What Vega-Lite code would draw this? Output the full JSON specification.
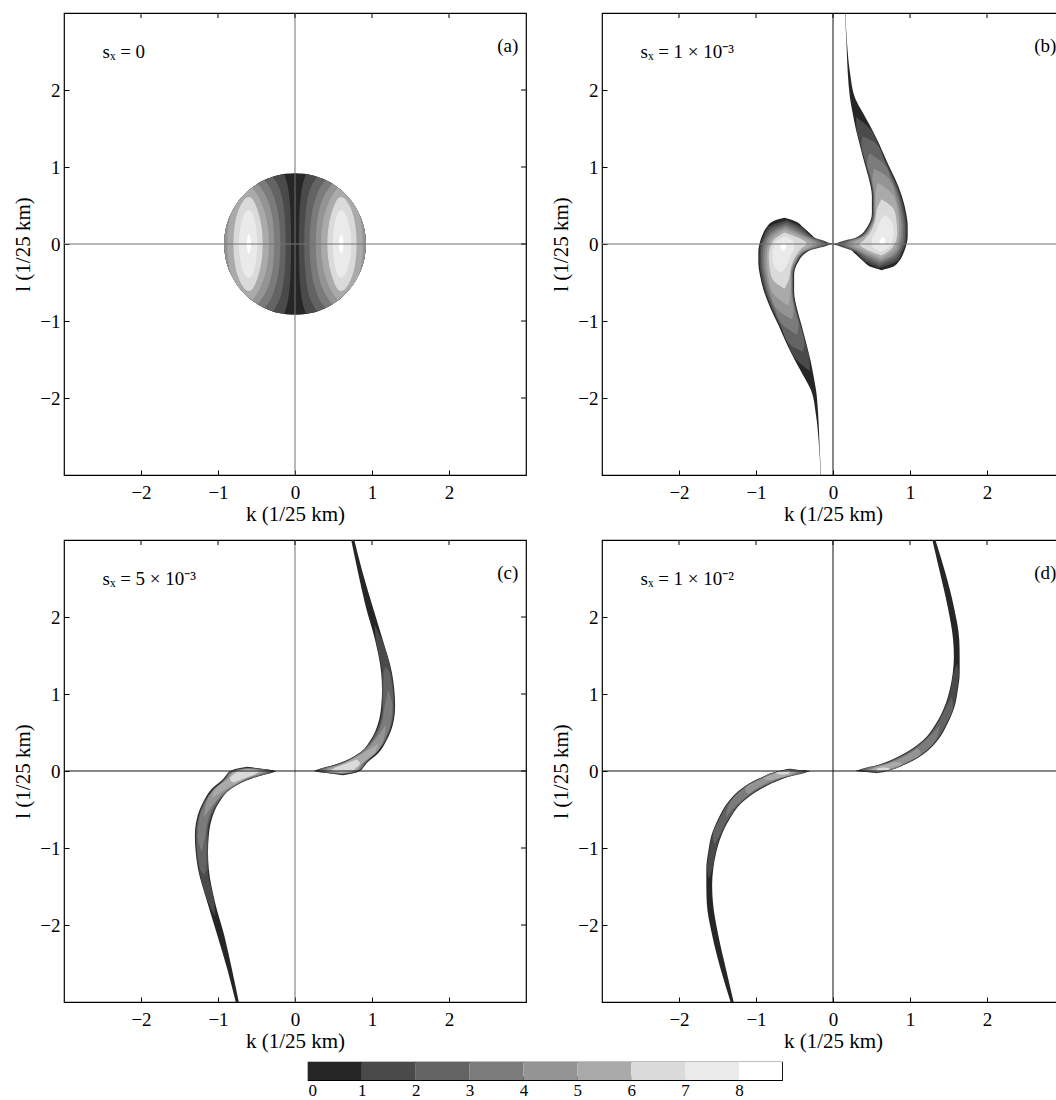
{
"$schema":"https://vega.github.io/schema/vega-lite/v6.json",
"padding":{"left":12,"top":11,"right":0,"bottom":0},
"datasets":{
"pa":[
{"v":0,"s":1,"l":-0.92,"a":0,"b":0},{"v":0,"s":1,"l":-0.915,"a":-0.096,"b":0.096},{"v":0,"s":1,"l":-0.9,"a":-0.191,"b":0.191},{"v":0,"s":1,"l":-0.85,"a":-0.352,"b":0.352},{"v":0,"s":1,"l":-0.75,"a":-0.533,"b":0.533},{"v":0,"s":1,"l":-0.6,"a":-0.697,"b":0.697},{"v":0,"s":1,"l":-0.4,"a":-0.829,"b":0.829},{"v":0,"s":1,"l":-0.2,"a":-0.898,"b":0.898},{"v":0,"s":1,"l":0,"a":-0.92,"b":0.92},{"v":0,"s":1,"l":0.2,"a":-0.898,"b":0.898},{"v":0,"s":1,"l":0.4,"a":-0.829,"b":0.829},{"v":0,"s":1,"l":0.6,"a":-0.697,"b":0.697},{"v":0,"s":1,"l":0.75,"a":-0.533,"b":0.533},{"v":0,"s":1,"l":0.85,"a":-0.352,"b":0.352},{"v":0,"s":1,"l":0.9,"a":-0.191,"b":0.191},{"v":0,"s":1,"l":0.915,"a":-0.096,"b":0.096},{"v":0,"s":1,"l":0.92,"a":0,"b":0},
{"v":1,"s":0,"l":-0.9085,"a":-0.146,"b":-0.146},{"v":1,"s":0,"l":-0.9,"a":-0.191,"b":-0.14},{"v":1,"s":0,"l":-0.85,"a":-0.352,"b":-0.121},{"v":1,"s":0,"l":-0.75,"a":-0.533,"b":-0.095},{"v":1,"s":0,"l":-0.6,"a":-0.697,"b":-0.073},{"v":1,"s":0,"l":-0.4,"a":-0.829,"b":-0.059},{"v":1,"s":0,"l":-0.2,"a":-0.898,"b":-0.052},{"v":1,"s":0,"l":0,"a":-0.92,"b":-0.05},{"v":1,"s":0,"l":0.2,"a":-0.898,"b":-0.052},{"v":1,"s":0,"l":0.4,"a":-0.829,"b":-0.059},{"v":1,"s":0,"l":0.6,"a":-0.697,"b":-0.073},{"v":1,"s":0,"l":0.75,"a":-0.533,"b":-0.095},{"v":1,"s":0,"l":0.85,"a":-0.352,"b":-0.121},{"v":1,"s":0,"l":0.9,"a":-0.191,"b":-0.14},{"v":1,"s":0,"l":0.9085,"a":-0.146,"b":-0.146},
{"v":1,"s":1,"l":-0.9085,"a":0.146,"b":0.146},{"v":1,"s":1,"l":-0.9,"a":0.14,"b":0.191},{"v":1,"s":1,"l":-0.85,"a":0.121,"b":0.352},{"v":1,"s":1,"l":-0.75,"a":0.095,"b":0.533},{"v":1,"s":1,"l":-0.6,"a":0.073,"b":0.697},{"v":1,"s":1,"l":-0.4,"a":0.059,"b":0.829},{"v":1,"s":1,"l":-0.2,"a":0.052,"b":0.898},{"v":1,"s":1,"l":0,"a":0.05,"b":0.92},{"v":1,"s":1,"l":0.2,"a":0.052,"b":0.898},{"v":1,"s":1,"l":0.4,"a":0.059,"b":0.829},{"v":1,"s":1,"l":0.6,"a":0.073,"b":0.697},{"v":1,"s":1,"l":0.75,"a":0.095,"b":0.533},{"v":1,"s":1,"l":0.85,"a":0.121,"b":0.352},{"v":1,"s":1,"l":0.9,"a":0.14,"b":0.191},{"v":1,"s":1,"l":0.9085,"a":0.146,"b":0.146},
{"v":2,"s":0,"l":-0.873,"a":-0.287,"b":-0.287},{"v":2,"s":0,"l":-0.85,"a":-0.352,"b":-0.271},{"v":2,"s":0,"l":-0.75,"a":-0.533,"b":-0.213},{"v":2,"s":0,"l":-0.6,"a":-0.697,"b":-0.167},{"v":2,"s":0,"l":-0.4,"a":-0.829,"b":-0.138},{"v":2,"s":0,"l":-0.2,"a":-0.898,"b":-0.124},{"v":2,"s":0,"l":0,"a":-0.92,"b":-0.12},{"v":2,"s":0,"l":0.2,"a":-0.898,"b":-0.124},{"v":2,"s":0,"l":0.4,"a":-0.829,"b":-0.138},{"v":2,"s":0,"l":0.6,"a":-0.697,"b":-0.167},{"v":2,"s":0,"l":0.75,"a":-0.533,"b":-0.213},{"v":2,"s":0,"l":0.85,"a":-0.352,"b":-0.271},{"v":2,"s":0,"l":0.873,"a":-0.287,"b":-0.287},
{"v":2,"s":1,"l":-0.873,"a":0.287,"b":0.287},{"v":2,"s":1,"l":-0.85,"a":0.271,"b":0.352},{"v":2,"s":1,"l":-0.75,"a":0.213,"b":0.533},{"v":2,"s":1,"l":-0.6,"a":0.167,"b":0.697},{"v":2,"s":1,"l":-0.4,"a":0.138,"b":0.829},{"v":2,"s":1,"l":-0.2,"a":0.124,"b":0.898},{"v":2,"s":1,"l":0,"a":0.12,"b":0.92},{"v":2,"s":1,"l":0.2,"a":0.124,"b":0.898},{"v":2,"s":1,"l":0.4,"a":0.138,"b":0.829},{"v":2,"s":1,"l":0.6,"a":0.167,"b":0.697},{"v":2,"s":1,"l":0.75,"a":0.213,"b":0.533},{"v":2,"s":1,"l":0.85,"a":0.271,"b":0.352},{"v":2,"s":1,"l":0.873,"a":0.287,"b":0.287},
{"v":3,"s":0,"l":-0.831,"a":-0.399,"b":-0.399},{"v":3,"s":0,"l":-0.8,"a":-0.454,"b":-0.372},{"v":3,"s":0,"l":-0.75,"a":-0.533,"b":-0.335},{"v":3,"s":0,"l":-0.6,"a":-0.697,"b":-0.27},{"v":3,"s":0,"l":-0.4,"a":-0.829,"b":-0.22},{"v":3,"s":0,"l":-0.2,"a":-0.898,"b":-0.197},{"v":3,"s":0,"l":0,"a":-0.92,"b":-0.19},{"v":3,"s":0,"l":0.2,"a":-0.898,"b":-0.197},{"v":3,"s":0,"l":0.4,"a":-0.829,"b":-0.22},{"v":3,"s":0,"l":0.6,"a":-0.697,"b":-0.27},{"v":3,"s":0,"l":0.75,"a":-0.533,"b":-0.335},{"v":3,"s":0,"l":0.8,"a":-0.454,"b":-0.372},{"v":3,"s":0,"l":0.831,"a":-0.399,"b":-0.399},
{"v":3,"s":1,"l":-0.831,"a":0.399,"b":0.399},{"v":3,"s":1,"l":-0.8,"a":0.372,"b":0.454},{"v":3,"s":1,"l":-0.75,"a":0.335,"b":0.533},{"v":3,"s":1,"l":-0.6,"a":0.27,"b":0.697},{"v":3,"s":1,"l":-0.4,"a":0.22,"b":0.829},{"v":3,"s":1,"l":-0.2,"a":0.197,"b":0.898},{"v":3,"s":1,"l":0,"a":0.19,"b":0.92},{"v":3,"s":1,"l":0.2,"a":0.197,"b":0.898},{"v":3,"s":1,"l":0.4,"a":0.22,"b":0.829},{"v":3,"s":1,"l":0.6,"a":0.27,"b":0.697},{"v":3,"s":1,"l":0.75,"a":0.335,"b":0.533},{"v":3,"s":1,"l":0.8,"a":0.372,"b":0.454},{"v":3,"s":1,"l":0.831,"a":0.399,"b":0.399},
{"v":4,"s":0,"l":-0.781,"a":-0.486,"b":-0.486},{"v":4,"s":0,"l":-0.7,"a":-0.597,"b":-0.425},{"v":4,"s":0,"l":-0.6,"a":-0.697,"b":-0.367},{"v":4,"s":0,"l":-0.4,"a":-0.829,"b":-0.305},{"v":4,"s":0,"l":-0.2,"a":-0.898,"b":-0.278},{"v":4,"s":0,"l":0,"a":-0.92,"b":-0.27},{"v":4,"s":0,"l":0.2,"a":-0.898,"b":-0.278},{"v":4,"s":0,"l":0.4,"a":-0.829,"b":-0.305},{"v":4,"s":0,"l":0.6,"a":-0.697,"b":-0.367},{"v":4,"s":0,"l":0.7,"a":-0.597,"b":-0.425},{"v":4,"s":0,"l":0.781,"a":-0.486,"b":-0.486},
{"v":4,"s":1,"l":-0.781,"a":0.486,"b":0.486},{"v":4,"s":1,"l":-0.7,"a":0.425,"b":0.597},{"v":4,"s":1,"l":-0.6,"a":0.367,"b":0.697},{"v":4,"s":1,"l":-0.4,"a":0.305,"b":0.829},{"v":4,"s":1,"l":-0.2,"a":0.278,"b":0.898},{"v":4,"s":1,"l":0,"a":0.27,"b":0.92},{"v":4,"s":1,"l":0.2,"a":0.278,"b":0.898},{"v":4,"s":1,"l":0.4,"a":0.305,"b":0.829},{"v":4,"s":1,"l":0.6,"a":0.367,"b":0.697},{"v":4,"s":1,"l":0.7,"a":0.425,"b":0.597},{"v":4,"s":1,"l":0.781,"a":0.486,"b":0.486},
{"v":5,"s":0,"l":-0.731,"a":-0.556,"b":-0.556},{"v":5,"s":0,"l":-0.65,"a":-0.651,"b":-0.495},{"v":5,"s":0,"l":-0.55,"a":-0.738,"b":-0.443},{"v":5,"s":0,"l":-0.4,"a":-0.829,"b":-0.39},{"v":5,"s":0,"l":-0.2,"a":-0.869,"b":-0.351},{"v":5,"s":0,"l":0,"a":-0.88,"b":-0.34},{"v":5,"s":0,"l":0.2,"a":-0.869,"b":-0.351},{"v":5,"s":0,"l":0.4,"a":-0.829,"b":-0.39},{"v":5,"s":0,"l":0.55,"a":-0.738,"b":-0.443},{"v":5,"s":0,"l":0.65,"a":-0.651,"b":-0.495},{"v":5,"s":0,"l":0.731,"a":-0.556,"b":-0.556},
{"v":5,"s":1,"l":-0.731,"a":0.556,"b":0.556},{"v":5,"s":1,"l":-0.65,"a":0.495,"b":0.651},{"v":5,"s":1,"l":-0.55,"a":0.443,"b":0.738},{"v":5,"s":1,"l":-0.4,"a":0.39,"b":0.829},{"v":5,"s":1,"l":-0.2,"a":0.351,"b":0.869},{"v":5,"s":1,"l":0,"a":0.34,"b":0.88},{"v":5,"s":1,"l":0.2,"a":0.351,"b":0.869},{"v":5,"s":1,"l":0.4,"a":0.39,"b":0.829},{"v":5,"s":1,"l":0.55,"a":0.443,"b":0.738},{"v":5,"s":1,"l":0.65,"a":0.495,"b":0.651},{"v":5,"s":1,"l":0.731,"a":0.556,"b":0.556},
{"v":6,"s":0,"l":-0.611,"a":-0.6,"b":-0.6},{"v":6,"s":0,"l":-0.6,"a":-0.63,"b":-0.57},{"v":6,"s":0,"l":-0.55,"a":-0.677,"b":-0.531},{"v":6,"s":0,"l":-0.5,"a":-0.707,"b":-0.508},{"v":6,"s":0,"l":-0.4,"a":-0.748,"b":-0.473},{"v":6,"s":0,"l":-0.2,"a":-0.788,"b":-0.432},{"v":6,"s":0,"l":0,"a":-0.8,"b":-0.42},{"v":6,"s":0,"l":0.2,"a":-0.788,"b":-0.432},{"v":6,"s":0,"l":0.4,"a":-0.748,"b":-0.473},{"v":6,"s":0,"l":0.5,"a":-0.707,"b":-0.508},{"v":6,"s":0,"l":0.55,"a":-0.677,"b":-0.531},{"v":6,"s":0,"l":0.6,"a":-0.63,"b":-0.57},{"v":6,"s":0,"l":0.611,"a":-0.6,"b":-0.6},
{"v":6,"s":1,"l":-0.611,"a":0.6,"b":0.6},{"v":6,"s":1,"l":-0.6,"a":0.57,"b":0.63},{"v":6,"s":1,"l":-0.55,"a":0.531,"b":0.677},{"v":6,"s":1,"l":-0.5,"a":0.508,"b":0.707},{"v":6,"s":1,"l":-0.4,"a":0.473,"b":0.748},{"v":6,"s":1,"l":-0.2,"a":0.432,"b":0.788},{"v":6,"s":1,"l":0,"a":0.42,"b":0.8},{"v":6,"s":1,"l":0.2,"a":0.432,"b":0.788},{"v":6,"s":1,"l":0.4,"a":0.473,"b":0.748},{"v":6,"s":1,"l":0.5,"a":0.508,"b":0.707},{"v":6,"s":1,"l":0.55,"a":0.531,"b":0.677},{"v":6,"s":1,"l":0.6,"a":0.57,"b":0.63},{"v":6,"s":1,"l":0.611,"a":0.6,"b":0.6},
{"v":7,"s":0,"l":-0.442,"a":-0.6,"b":-0.6},{"v":7,"s":0,"l":-0.42,"a":-0.637,"b":-0.563},{"v":7,"s":0,"l":-0.35,"a":-0.672,"b":-0.535},{"v":7,"s":0,"l":-0.2,"a":-0.712,"b":-0.504},{"v":7,"s":0,"l":0,"a":-0.73,"b":-0.49},{"v":7,"s":0,"l":0.2,"a":-0.712,"b":-0.504},{"v":7,"s":0,"l":0.35,"a":-0.672,"b":-0.535},{"v":7,"s":0,"l":0.42,"a":-0.637,"b":-0.563},{"v":7,"s":0,"l":0.442,"a":-0.6,"b":-0.6},
{"v":7,"s":1,"l":-0.442,"a":0.6,"b":0.6},{"v":7,"s":1,"l":-0.42,"a":0.563,"b":0.637},{"v":7,"s":1,"l":-0.35,"a":0.535,"b":0.672},{"v":7,"s":1,"l":-0.2,"a":0.504,"b":0.712},{"v":7,"s":1,"l":0,"a":0.49,"b":0.73},{"v":7,"s":1,"l":0.2,"a":0.504,"b":0.712},{"v":7,"s":1,"l":0.35,"a":0.535,"b":0.672},{"v":7,"s":1,"l":0.42,"a":0.563,"b":0.637},{"v":7,"s":1,"l":0.442,"a":0.6,"b":0.6},
{"v":8,"s":0,"l":-0.133,"a":-0.6,"b":-0.6},{"v":8,"s":0,"l":-0.1,"a":-0.613,"b":-0.587},{"v":8,"s":0,"l":0,"a":-0.63,"b":-0.57},{"v":8,"s":0,"l":0.1,"a":-0.613,"b":-0.587},{"v":8,"s":0,"l":0.133,"a":-0.6,"b":-0.6},
{"v":8,"s":1,"l":-0.133,"a":0.6,"b":0.6},{"v":8,"s":1,"l":-0.1,"a":0.587,"b":0.613},{"v":8,"s":1,"l":0,"a":0.57,"b":0.63},{"v":8,"s":1,"l":0.1,"a":0.587,"b":0.613},{"v":8,"s":1,"l":0.133,"a":0.6,"b":0.6}
],
"pb":[
{"v":0,"s":0,"l":-3,"a":-0.16,"b":-0.155},{"v":0,"s":0,"l":-2.6,"a":-0.183,"b":-0.175},{"v":0,"s":0,"l":-2.2,"a":-0.224,"b":-0.193},{"v":0,"s":0,"l":-1.9,"a":-0.285,"b":-0.22},{"v":0,"s":0,"l":-1.7,"a":-0.39,"b":-0.255},{"v":0,"s":0,"l":-1.5,"a":-0.5,"b":-0.295},{"v":0,"s":0,"l":-1.3,"a":-0.6,"b":-0.345},{"v":0,"s":0,"l":-1.05,"a":-0.71,"b":-0.41},{"v":0,"s":0,"l":-0.85,"a":-0.805,"b":-0.465},{"v":0,"s":0,"l":-0.62,"a":-0.895,"b":-0.505},{"v":0,"s":0,"l":-0.4,"a":-0.95,"b":-0.505},{"v":0,"s":0,"l":-0.23,"a":-0.97,"b":-0.45},{"v":0,"s":0,"l":-0.1,"a":-0.97,"b":-0.33},{"v":0,"s":0,"l":-0.03,"a":-0.962,"b":-0.17},{"v":0,"s":0,"l":0,"a":-0.955,"b":0},{"v":0,"s":0,"l":0.04,"a":-0.945,"b":-0.17},{"v":0,"s":0,"l":0.12,"a":-0.915,"b":-0.28},{"v":0,"s":0,"l":0.22,"a":-0.86,"b":-0.39},{"v":0,"s":0,"l":0.3,"a":-0.77,"b":-0.5},{"v":0,"s":0,"l":0.34,"a":-0.63,"b":-0.63},
{"v":0,"s":1,"l":3,"a":0.155,"b":0.16},{"v":0,"s":1,"l":2.6,"a":0.175,"b":0.183},{"v":0,"s":1,"l":2.2,"a":0.193,"b":0.224},{"v":0,"s":1,"l":1.9,"a":0.22,"b":0.285},{"v":0,"s":1,"l":1.7,"a":0.255,"b":0.39},{"v":0,"s":1,"l":1.5,"a":0.295,"b":0.5},{"v":0,"s":1,"l":1.3,"a":0.345,"b":0.6},{"v":0,"s":1,"l":1.05,"a":0.41,"b":0.71},{"v":0,"s":1,"l":0.85,"a":0.465,"b":0.805},{"v":0,"s":1,"l":0.62,"a":0.505,"b":0.895},{"v":0,"s":1,"l":0.4,"a":0.505,"b":0.95},{"v":0,"s":1,"l":0.23,"a":0.45,"b":0.97},{"v":0,"s":1,"l":0.1,"a":0.33,"b":0.97},{"v":0,"s":1,"l":0.03,"a":0.17,"b":0.962},{"v":0,"s":1,"l":0,"a":0,"b":0.955},{"v":0,"s":1,"l":-0.04,"a":0.17,"b":0.945},{"v":0,"s":1,"l":-0.12,"a":0.28,"b":0.915},{"v":0,"s":1,"l":-0.22,"a":0.39,"b":0.86},{"v":0,"s":1,"l":-0.3,"a":0.5,"b":0.77},{"v":0,"s":1,"l":-0.34,"a":0.63,"b":0.63},
{"v":1,"s":0,"l":-1.65,"a":-0.3,"b":-0.3},{"v":1,"s":0,"l":-1.5,"a":-0.48,"b":-0.305},{"v":1,"s":0,"l":-1.3,"a":-0.585,"b":-0.355},{"v":1,"s":0,"l":-1.05,"a":-0.695,"b":-0.42},{"v":1,"s":0,"l":-0.85,"a":-0.79,"b":-0.475},{"v":1,"s":0,"l":-0.62,"a":-0.88,"b":-0.515},{"v":1,"s":0,"l":-0.4,"a":-0.935,"b":-0.515},{"v":1,"s":0,"l":-0.23,"a":-0.955,"b":-0.46},{"v":1,"s":0,"l":-0.1,"a":-0.955,"b":-0.345},{"v":1,"s":0,"l":0,"a":-0.94,"b":-0.05},{"v":1,"s":0,"l":0.1,"a":-0.9,"b":-0.28},{"v":1,"s":0,"l":0.22,"a":-0.835,"b":-0.41},{"v":1,"s":0,"l":0.31,"a":-0.6,"b":-0.6},
{"v":1,"s":1,"l":1.65,"a":0.3,"b":0.3},{"v":1,"s":1,"l":1.5,"a":0.305,"b":0.48},{"v":1,"s":1,"l":1.3,"a":0.355,"b":0.585},{"v":1,"s":1,"l":1.05,"a":0.42,"b":0.695},{"v":1,"s":1,"l":0.85,"a":0.475,"b":0.79},{"v":1,"s":1,"l":0.62,"a":0.515,"b":0.88},{"v":1,"s":1,"l":0.4,"a":0.515,"b":0.935},{"v":1,"s":1,"l":0.23,"a":0.46,"b":0.955},{"v":1,"s":1,"l":0.1,"a":0.345,"b":0.955},{"v":1,"s":1,"l":0,"a":0.05,"b":0.94},{"v":1,"s":1,"l":-0.1,"a":0.28,"b":0.9},{"v":1,"s":1,"l":-0.22,"a":0.41,"b":0.835},{"v":1,"s":1,"l":-0.31,"a":0.6,"b":0.6},
{"v":2,"s":0,"l":-1.4,"a":-0.39,"b":-0.39},{"v":2,"s":0,"l":-1.3,"a":-0.565,"b":-0.37},{"v":2,"s":0,"l":-1.05,"a":-0.68,"b":-0.43},{"v":2,"s":0,"l":-0.85,"a":-0.775,"b":-0.485},{"v":2,"s":0,"l":-0.62,"a":-0.865,"b":-0.522},{"v":2,"s":0,"l":-0.4,"a":-0.915,"b":-0.522},{"v":2,"s":0,"l":-0.23,"a":-0.935,"b":-0.47},{"v":2,"s":0,"l":-0.1,"a":-0.935,"b":-0.36},{"v":2,"s":0,"l":0,"a":-0.92,"b":-0.1},{"v":2,"s":0,"l":0.1,"a":-0.875,"b":-0.3},{"v":2,"s":0,"l":0.2,"a":-0.8,"b":-0.44},{"v":2,"s":0,"l":0.28,"a":-0.6,"b":-0.6},
{"v":2,"s":1,"l":1.4,"a":0.39,"b":0.39},{"v":2,"s":1,"l":1.3,"a":0.37,"b":0.565},{"v":2,"s":1,"l":1.05,"a":0.43,"b":0.68},{"v":2,"s":1,"l":0.85,"a":0.485,"b":0.775},{"v":2,"s":1,"l":0.62,"a":0.522,"b":0.865},{"v":2,"s":1,"l":0.4,"a":0.522,"b":0.915},{"v":2,"s":1,"l":0.23,"a":0.47,"b":0.935},{"v":2,"s":1,"l":0.1,"a":0.36,"b":0.935},{"v":2,"s":1,"l":0,"a":0.1,"b":0.92},{"v":2,"s":1,"l":-0.1,"a":0.3,"b":0.875},{"v":2,"s":1,"l":-0.2,"a":0.44,"b":0.8},{"v":2,"s":1,"l":-0.28,"a":0.6,"b":0.6},
{"v":3,"s":0,"l":-1.18,"a":-0.47,"b":-0.47},{"v":3,"s":0,"l":-1.05,"a":-0.655,"b":-0.445},{"v":3,"s":0,"l":-0.85,"a":-0.755,"b":-0.495},{"v":3,"s":0,"l":-0.62,"a":-0.845,"b":-0.53},{"v":3,"s":0,"l":-0.4,"a":-0.895,"b":-0.53},{"v":3,"s":0,"l":-0.23,"a":-0.915,"b":-0.48},{"v":3,"s":0,"l":-0.1,"a":-0.912,"b":-0.375},{"v":3,"s":0,"l":0,"a":-0.895,"b":-0.15},{"v":3,"s":0,"l":0.1,"a":-0.85,"b":-0.33},{"v":3,"s":0,"l":0.18,"a":-0.77,"b":-0.46},{"v":3,"s":0,"l":0.25,"a":-0.61,"b":-0.61},
{"v":3,"s":1,"l":1.18,"a":0.47,"b":0.47},{"v":3,"s":1,"l":1.05,"a":0.445,"b":0.655},{"v":3,"s":1,"l":0.85,"a":0.495,"b":0.755},{"v":3,"s":1,"l":0.62,"a":0.53,"b":0.845},{"v":3,"s":1,"l":0.4,"a":0.53,"b":0.895},{"v":3,"s":1,"l":0.23,"a":0.48,"b":0.915},{"v":3,"s":1,"l":0.1,"a":0.375,"b":0.912},{"v":3,"s":1,"l":0,"a":0.15,"b":0.895},{"v":3,"s":1,"l":-0.1,"a":0.33,"b":0.85},{"v":3,"s":1,"l":-0.18,"a":0.46,"b":0.77},{"v":3,"s":1,"l":-0.25,"a":0.61,"b":0.61},
{"v":4,"s":0,"l":-0.98,"a":-0.53,"b":-0.53},{"v":4,"s":0,"l":-0.85,"a":-0.725,"b":-0.51},{"v":4,"s":0,"l":-0.62,"a":-0.82,"b":-0.54},{"v":4,"s":0,"l":-0.4,"a":-0.87,"b":-0.54},{"v":4,"s":0,"l":-0.23,"a":-0.89,"b":-0.49},{"v":4,"s":0,"l":-0.1,"a":-0.885,"b":-0.39},{"v":4,"s":0,"l":0,"a":-0.865,"b":-0.2},{"v":4,"s":0,"l":0.1,"a":-0.82,"b":-0.36},{"v":4,"s":0,"l":0.16,"a":-0.75,"b":-0.48},{"v":4,"s":0,"l":0.22,"a":-0.62,"b":-0.62},
{"v":4,"s":1,"l":0.98,"a":0.53,"b":0.53},{"v":4,"s":1,"l":0.85,"a":0.51,"b":0.725},{"v":4,"s":1,"l":0.62,"a":0.54,"b":0.82},{"v":4,"s":1,"l":0.4,"a":0.54,"b":0.87},{"v":4,"s":1,"l":0.23,"a":0.49,"b":0.89},{"v":4,"s":1,"l":0.1,"a":0.39,"b":0.885},{"v":4,"s":1,"l":0,"a":0.2,"b":0.865},{"v":4,"s":1,"l":-0.1,"a":0.36,"b":0.82},{"v":4,"s":1,"l":-0.16,"a":0.48,"b":0.75},{"v":4,"s":1,"l":-0.22,"a":0.62,"b":0.62},
{"v":5,"s":0,"l":-0.8,"a":-0.58,"b":-0.58},{"v":5,"s":0,"l":-0.62,"a":-0.79,"b":-0.55},{"v":5,"s":0,"l":-0.4,"a":-0.845,"b":-0.55},{"v":5,"s":0,"l":-0.23,"a":-0.86,"b":-0.505},{"v":5,"s":0,"l":-0.1,"a":-0.855,"b":-0.41},{"v":5,"s":0,"l":0,"a":-0.835,"b":-0.26},{"v":5,"s":0,"l":0.09,"a":-0.78,"b":-0.4},{"v":5,"s":0,"l":0.19,"a":-0.63,"b":-0.63},
{"v":5,"s":1,"l":0.8,"a":0.58,"b":0.58},{"v":5,"s":1,"l":0.62,"a":0.55,"b":0.79},{"v":5,"s":1,"l":0.4,"a":0.55,"b":0.845},{"v":5,"s":1,"l":0.23,"a":0.505,"b":0.86},{"v":5,"s":1,"l":0.1,"a":0.41,"b":0.855},{"v":5,"s":1,"l":0,"a":0.26,"b":0.835},{"v":5,"s":1,"l":-0.09,"a":0.4,"b":0.78},{"v":5,"s":1,"l":-0.19,"a":0.63,"b":0.63},
{"v":6,"s":0,"l":-0.58,"a":-0.63,"b":-0.63},{"v":6,"s":0,"l":-0.45,"a":-0.79,"b":-0.57},{"v":6,"s":0,"l":-0.3,"a":-0.825,"b":-0.545},{"v":6,"s":0,"l":-0.15,"a":-0.835,"b":-0.48},{"v":6,"s":0,"l":-0.05,"a":-0.82,"b":-0.4},{"v":6,"s":0,"l":0,"a":-0.8,"b":-0.34},{"v":6,"s":0,"l":0.08,"a":-0.74,"b":-0.45},{"v":6,"s":0,"l":0.15,"a":-0.63,"b":-0.63},
{"v":6,"s":1,"l":0.58,"a":0.63,"b":0.63},{"v":6,"s":1,"l":0.45,"a":0.57,"b":0.79},{"v":6,"s":1,"l":0.3,"a":0.545,"b":0.825},{"v":6,"s":1,"l":0.15,"a":0.48,"b":0.835},{"v":6,"s":1,"l":0.05,"a":0.4,"b":0.82},{"v":6,"s":1,"l":0,"a":0.34,"b":0.8},{"v":6,"s":1,"l":-0.08,"a":0.45,"b":0.74},{"v":6,"s":1,"l":-0.15,"a":0.63,"b":0.63},
{"v":7,"s":0,"l":-0.38,"a":-0.67,"b":-0.67},{"v":7,"s":0,"l":-0.28,"a":-0.77,"b":-0.6},{"v":7,"s":0,"l":-0.15,"a":-0.79,"b":-0.55},{"v":7,"s":0,"l":-0.05,"a":-0.775,"b":-0.5},{"v":7,"s":0,"l":0.03,"a":-0.74,"b":-0.51},{"v":7,"s":0,"l":0.1,"a":-0.62,"b":-0.62},
{"v":7,"s":1,"l":0.38,"a":0.67,"b":0.67},{"v":7,"s":1,"l":0.28,"a":0.6,"b":0.77},{"v":7,"s":1,"l":0.15,"a":0.55,"b":0.79},{"v":7,"s":1,"l":0.05,"a":0.5,"b":0.775},{"v":7,"s":1,"l":-0.03,"a":0.51,"b":0.74},{"v":7,"s":1,"l":-0.1,"a":0.62,"b":0.62},
{"v":8,"s":0,"l":-0.09,"a":-0.655,"b":-0.655},{"v":8,"s":0,"l":-0.06,"a":-0.675,"b":-0.615},{"v":8,"s":0,"l":-0.02,"a":-0.68,"b":-0.605},{"v":8,"s":0,"l":0.01,"a":-0.635,"b":-0.635},
{"v":8,"s":1,"l":0.09,"a":0.655,"b":0.655},{"v":8,"s":1,"l":0.06,"a":0.615,"b":0.675},{"v":8,"s":1,"l":0.02,"a":0.605,"b":0.68},{"v":8,"s":1,"l":-0.01,"a":0.635,"b":0.635}
],
"pc":[
{"v":0,"s":0,"l":-3,"a":-0.77,"b":-0.73},{"v":0,"s":0,"l":-2.57,"a":-0.88,"b":-0.82},{"v":0,"s":0,"l":-2.13,"a":-1.01,"b":-0.92},{"v":0,"s":0,"l":-1.7,"a":-1.14,"b":-1.04},{"v":0,"s":0,"l":-1.27,"a":-1.26,"b":-1.12},{"v":0,"s":0,"l":-1.05,"a":-1.29,"b":-1.13},{"v":0,"s":0,"l":-0.84,"a":-1.3,"b":-1.12},{"v":0,"s":0,"l":-0.62,"a":-1.275,"b":-1.08},{"v":0,"s":0,"l":-0.4,"a":-1.19,"b":-0.98},{"v":0,"s":0,"l":-0.23,"a":-1.08,"b":-0.83},{"v":0,"s":0,"l":-0.1,"a":-0.93,"b":-0.57},{"v":0,"s":0,"l":-0.05,"a":-0.89,"b":-0.41},{"v":0,"s":0,"l":0,"a":-0.84,"b":-0.25},{"v":0,"s":0,"l":0.03,"a":-0.76,"b":-0.44},{"v":0,"s":0,"l":0.055,"a":-0.62,"b":-0.62},
{"v":0,"s":1,"l":3,"a":0.73,"b":0.77},{"v":0,"s":1,"l":2.57,"a":0.82,"b":0.88},{"v":0,"s":1,"l":2.13,"a":0.92,"b":1.01},{"v":0,"s":1,"l":1.7,"a":1.04,"b":1.14},{"v":0,"s":1,"l":1.27,"a":1.12,"b":1.26},{"v":0,"s":1,"l":1.05,"a":1.13,"b":1.29},{"v":0,"s":1,"l":0.84,"a":1.12,"b":1.3},{"v":0,"s":1,"l":0.62,"a":1.08,"b":1.275},{"v":0,"s":1,"l":0.4,"a":0.98,"b":1.19},{"v":0,"s":1,"l":0.23,"a":0.83,"b":1.08},{"v":0,"s":1,"l":0.1,"a":0.57,"b":0.93},{"v":0,"s":1,"l":0.05,"a":0.41,"b":0.89},{"v":0,"s":1,"l":0,"a":0.25,"b":0.84},{"v":0,"s":1,"l":-0.03,"a":0.44,"b":0.76},{"v":0,"s":1,"l":-0.055,"a":0.62,"b":0.62},
{"v":1,"s":0,"l":-1.9,"a":-1.035,"b":-1.035},{"v":1,"s":0,"l":-1.7,"a":-1.13,"b":-1.05},{"v":1,"s":0,"l":-1.27,"a":-1.25,"b":-1.13},{"v":1,"s":0,"l":-0.84,"a":-1.29,"b":-1.13},{"v":1,"s":0,"l":-0.4,"a":-1.18,"b":-0.99},{"v":1,"s":0,"l":-0.1,"a":-0.92,"b":-0.585},{"v":1,"s":0,"l":0,"a":-0.83,"b":-0.28},{"v":1,"s":0,"l":0.045,"a":-0.615,"b":-0.615},
{"v":1,"s":1,"l":1.9,"a":1.035,"b":1.035},{"v":1,"s":1,"l":1.7,"a":1.05,"b":1.13},{"v":1,"s":1,"l":1.27,"a":1.13,"b":1.25},{"v":1,"s":1,"l":0.84,"a":1.13,"b":1.29},{"v":1,"s":1,"l":0.4,"a":0.99,"b":1.18},{"v":1,"s":1,"l":0.1,"a":0.585,"b":0.92},{"v":1,"s":1,"l":0,"a":0.28,"b":0.83},{"v":1,"s":1,"l":-0.045,"a":0.615,"b":0.615},
{"v":2,"s":0,"l":-1.35,"a":-1.18,"b":-1.18},{"v":2,"s":0,"l":-1.27,"a":-1.235,"b":-1.15},{"v":2,"s":0,"l":-0.84,"a":-1.28,"b":-1.145},{"v":2,"s":0,"l":-0.4,"a":-1.17,"b":-1.0},{"v":2,"s":0,"l":-0.1,"a":-0.91,"b":-0.6},{"v":2,"s":0,"l":0,"a":-0.82,"b":-0.31},{"v":2,"s":0,"l":0.04,"a":-0.615,"b":-0.615},
{"v":2,"s":1,"l":1.35,"a":1.18,"b":1.18},{"v":2,"s":1,"l":1.27,"a":1.15,"b":1.235},{"v":2,"s":1,"l":0.84,"a":1.145,"b":1.28},{"v":2,"s":1,"l":0.4,"a":1.0,"b":1.17},{"v":2,"s":1,"l":0.1,"a":0.6,"b":0.91},{"v":2,"s":1,"l":0,"a":0.31,"b":0.82},{"v":2,"s":1,"l":-0.04,"a":0.615,"b":0.615},
{"v":3,"s":0,"l":-1.05,"a":-1.21,"b":-1.21},{"v":3,"s":0,"l":-0.84,"a":-1.265,"b":-1.165},{"v":3,"s":0,"l":-0.62,"a":-1.245,"b":-1.125},{"v":3,"s":0,"l":-0.4,"a":-1.16,"b":-1.015},{"v":3,"s":0,"l":-0.1,"a":-0.9,"b":-0.61},{"v":3,"s":0,"l":0,"a":-0.81,"b":-0.34},{"v":3,"s":0,"l":0.035,"a":-0.615,"b":-0.615},
{"v":3,"s":1,"l":1.05,"a":1.21,"b":1.21},{"v":3,"s":1,"l":0.84,"a":1.165,"b":1.265},{"v":3,"s":1,"l":0.62,"a":1.125,"b":1.245},{"v":3,"s":1,"l":0.4,"a":1.015,"b":1.16},{"v":3,"s":1,"l":0.1,"a":0.61,"b":0.9},{"v":3,"s":1,"l":0,"a":0.34,"b":0.81},{"v":3,"s":1,"l":-0.035,"a":0.615,"b":0.615},
{"v":4,"s":0,"l":-0.6,"a":-1.18,"b":-1.18},{"v":4,"s":0,"l":-0.4,"a":-1.15,"b":-1.035},{"v":4,"s":0,"l":-0.23,"a":-1.05,"b":-0.865},{"v":4,"s":0,"l":-0.1,"a":-0.885,"b":-0.625},{"v":4,"s":0,"l":0,"a":-0.795,"b":-0.38},{"v":4,"s":0,"l":0.03,"a":-0.615,"b":-0.615},
{"v":4,"s":1,"l":0.6,"a":1.18,"b":1.18},{"v":4,"s":1,"l":0.4,"a":1.035,"b":1.15},{"v":4,"s":1,"l":0.23,"a":0.865,"b":1.05},{"v":4,"s":1,"l":0.1,"a":0.625,"b":0.885},{"v":4,"s":1,"l":0,"a":0.38,"b":0.795},{"v":4,"s":1,"l":-0.03,"a":0.615,"b":0.615},
{"v":5,"s":0,"l":-0.35,"a":-1.08,"b":-1.08},{"v":5,"s":0,"l":-0.23,"a":-1.03,"b":-0.885},{"v":5,"s":0,"l":-0.1,"a":-0.87,"b":-0.645},{"v":5,"s":0,"l":0,"a":-0.78,"b":-0.42},{"v":5,"s":0,"l":0.025,"a":-0.61,"b":-0.61},
{"v":5,"s":1,"l":0.35,"a":1.08,"b":1.08},{"v":5,"s":1,"l":0.23,"a":0.885,"b":1.03},{"v":5,"s":1,"l":0.1,"a":0.645,"b":0.87},{"v":5,"s":1,"l":0,"a":0.42,"b":0.78},{"v":5,"s":1,"l":-0.025,"a":0.61,"b":0.61},
{"v":6,"s":0,"l":-0.15,"a":-0.8,"b":-0.8},{"v":6,"s":0,"l":-0.1,"a":-0.845,"b":-0.67},{"v":6,"s":0,"l":-0.03,"a":-0.78,"b":-0.5},{"v":6,"s":0,"l":0,"a":-0.74,"b":-0.47},{"v":6,"s":0,"l":0.015,"a":-0.6,"b":-0.6},
{"v":6,"s":1,"l":0.15,"a":0.8,"b":0.8},{"v":6,"s":1,"l":0.1,"a":0.67,"b":0.845},{"v":6,"s":1,"l":0.03,"a":0.5,"b":0.78},{"v":6,"s":1,"l":0,"a":0.47,"b":0.74},{"v":6,"s":1,"l":-0.015,"a":0.6,"b":0.6}
],
"pd":[
{"v":0,"s":0,"l":-3,"a":-1.33,"b":-1.29},{"v":0,"s":0,"l":-2.57,"a":-1.46,"b":-1.39},{"v":0,"s":0,"l":-2.13,"a":-1.57,"b":-1.49},{"v":0,"s":0,"l":-1.7,"a":-1.64,"b":-1.56},{"v":0,"s":0,"l":-1.48,"a":-1.645,"b":-1.57},{"v":0,"s":0,"l":-1.27,"a":-1.645,"b":-1.555},{"v":0,"s":0,"l":-1.05,"a":-1.62,"b":-1.515},{"v":0,"s":0,"l":-0.84,"a":-1.58,"b":-1.45},{"v":0,"s":0,"l":-0.62,"a":-1.49,"b":-1.34},{"v":0,"s":0,"l":-0.4,"a":-1.36,"b":-1.17},{"v":0,"s":0,"l":-0.23,"a":-1.19,"b":-0.93},{"v":0,"s":0,"l":-0.1,"a":-0.97,"b":-0.65},{"v":0,"s":0,"l":-0.035,"a":-0.8,"b":-0.45},{"v":0,"s":0,"l":0,"a":-0.7,"b":-0.3},{"v":0,"s":0,"l":0.02,"a":-0.62,"b":-0.5},{"v":0,"s":0,"l":0.028,"a":-0.56,"b":-0.56},
{"v":0,"s":1,"l":3,"a":1.29,"b":1.33},{"v":0,"s":1,"l":2.57,"a":1.39,"b":1.46},{"v":0,"s":1,"l":2.13,"a":1.49,"b":1.57},{"v":0,"s":1,"l":1.7,"a":1.56,"b":1.64},{"v":0,"s":1,"l":1.48,"a":1.57,"b":1.645},{"v":0,"s":1,"l":1.27,"a":1.555,"b":1.645},{"v":0,"s":1,"l":1.05,"a":1.515,"b":1.62},{"v":0,"s":1,"l":0.84,"a":1.45,"b":1.58},{"v":0,"s":1,"l":0.62,"a":1.34,"b":1.49},{"v":0,"s":1,"l":0.4,"a":1.17,"b":1.36},{"v":0,"s":1,"l":0.23,"a":0.93,"b":1.19},{"v":0,"s":1,"l":0.1,"a":0.65,"b":0.97},{"v":0,"s":1,"l":0.035,"a":0.45,"b":0.8},{"v":0,"s":1,"l":0,"a":0.3,"b":0.7},{"v":0,"s":1,"l":-0.02,"a":0.5,"b":0.62},{"v":0,"s":1,"l":-0.028,"a":0.56,"b":0.56},
{"v":1,"s":0,"l":-1.4,"a":-1.61,"b":-1.61},{"v":1,"s":0,"l":-1.27,"a":-1.635,"b":-1.565},{"v":1,"s":0,"l":-1.05,"a":-1.61,"b":-1.525},{"v":1,"s":0,"l":-0.84,"a":-1.57,"b":-1.46},{"v":1,"s":0,"l":-0.62,"a":-1.48,"b":-1.35},{"v":1,"s":0,"l":-0.4,"a":-1.35,"b":-1.18},{"v":1,"s":0,"l":-0.23,"a":-1.18,"b":-0.945},{"v":1,"s":0,"l":-0.1,"a":-0.96,"b":-0.665},{"v":1,"s":0,"l":0,"a":-0.69,"b":-0.33},{"v":1,"s":0,"l":0.022,"a":-0.56,"b":-0.56},
{"v":1,"s":1,"l":1.4,"a":1.61,"b":1.61},{"v":1,"s":1,"l":1.27,"a":1.565,"b":1.635},{"v":1,"s":1,"l":1.05,"a":1.525,"b":1.61},{"v":1,"s":1,"l":0.84,"a":1.46,"b":1.57},{"v":1,"s":1,"l":0.62,"a":1.35,"b":1.48},{"v":1,"s":1,"l":0.4,"a":1.18,"b":1.35},{"v":1,"s":1,"l":0.23,"a":0.945,"b":1.18},{"v":1,"s":1,"l":0.1,"a":0.665,"b":0.96},{"v":1,"s":1,"l":0,"a":0.33,"b":0.69},{"v":1,"s":1,"l":-0.022,"a":0.56,"b":0.56},
{"v":2,"s":0,"l":-0.95,"a":-1.54,"b":-1.54},{"v":2,"s":0,"l":-0.84,"a":-1.56,"b":-1.475},{"v":2,"s":0,"l":-0.62,"a":-1.47,"b":-1.36},{"v":2,"s":0,"l":-0.4,"a":-1.34,"b":-1.19},{"v":2,"s":0,"l":-0.23,"a":-1.17,"b":-0.96},{"v":2,"s":0,"l":-0.1,"a":-0.95,"b":-0.68},{"v":2,"s":0,"l":0,"a":-0.68,"b":-0.36},{"v":2,"s":0,"l":0.017,"a":-0.56,"b":-0.56},
{"v":2,"s":1,"l":0.95,"a":1.54,"b":1.54},{"v":2,"s":1,"l":0.84,"a":1.475,"b":1.56},{"v":2,"s":1,"l":0.62,"a":1.36,"b":1.47},{"v":2,"s":1,"l":0.4,"a":1.19,"b":1.34},{"v":2,"s":1,"l":0.23,"a":0.96,"b":1.17},{"v":2,"s":1,"l":0.1,"a":0.68,"b":0.95},{"v":2,"s":1,"l":0,"a":0.36,"b":0.68},{"v":2,"s":1,"l":-0.017,"a":0.56,"b":0.56},
{"v":3,"s":0,"l":-0.6,"a":-1.39,"b":-1.39},{"v":3,"s":0,"l":-0.4,"a":-1.33,"b":-1.205},{"v":3,"s":0,"l":-0.23,"a":-1.16,"b":-0.975},{"v":3,"s":0,"l":-0.1,"a":-0.94,"b":-0.7},{"v":3,"s":0,"l":0,"a":-0.67,"b":-0.4},{"v":3,"s":0,"l":0.012,"a":-0.56,"b":-0.56},
{"v":3,"s":1,"l":0.6,"a":1.39,"b":1.39},{"v":3,"s":1,"l":0.4,"a":1.205,"b":1.33},{"v":3,"s":1,"l":0.23,"a":0.975,"b":1.16},{"v":3,"s":1,"l":0.1,"a":0.7,"b":0.94},{"v":3,"s":1,"l":0,"a":0.4,"b":0.67},{"v":3,"s":1,"l":-0.012,"a":0.56,"b":0.56},
{"v":4,"s":0,"l":-0.3,"a":-1.1,"b":-1.1},{"v":4,"s":0,"l":-0.23,"a":-1.14,"b":-1.0},{"v":4,"s":0,"l":-0.1,"a":-0.92,"b":-0.72},{"v":4,"s":0,"l":-0.035,"a":-0.77,"b":-0.5},{"v":4,"s":0,"l":0,"a":-0.66,"b":-0.45},{"v":4,"s":0,"l":0.008,"a":-0.56,"b":-0.56},
{"v":4,"s":1,"l":0.3,"a":1.1,"b":1.1},{"v":4,"s":1,"l":0.23,"a":1.0,"b":1.14},{"v":4,"s":1,"l":0.1,"a":0.72,"b":0.92},{"v":4,"s":1,"l":0.035,"a":0.5,"b":0.77},{"v":4,"s":1,"l":0,"a":0.45,"b":0.66},{"v":4,"s":1,"l":-0.008,"a":0.56,"b":0.56},
{"v":5,"s":0,"l":-0.12,"a":-0.8,"b":-0.8},{"v":5,"s":0,"l":-0.1,"a":-0.9,"b":-0.74},{"v":5,"s":0,"l":-0.035,"a":-0.76,"b":-0.53},{"v":5,"s":0,"l":0,"a":-0.65,"b":-0.5},{"v":5,"s":0,"l":0.005,"a":-0.57,"b":-0.57},
{"v":5,"s":1,"l":0.12,"a":0.8,"b":0.8},{"v":5,"s":1,"l":0.1,"a":0.74,"b":0.9},{"v":5,"s":1,"l":0.035,"a":0.53,"b":0.76},{"v":5,"s":1,"l":0,"a":0.5,"b":0.65},{"v":5,"s":1,"l":-0.005,"a":0.57,"b":0.57},
{"v":6,"s":0,"l":-0.05,"a":-0.66,"b":-0.66},{"v":6,"s":0,"l":-0.03,"a":-0.74,"b":-0.57},{"v":6,"s":0,"l":0,"a":-0.64,"b":-0.56},{"v":6,"s":0,"l":0.003,"a":-0.6,"b":-0.6},
{"v":6,"s":1,"l":0.05,"a":0.66,"b":0.66},{"v":6,"s":1,"l":0.03,"a":0.57,"b":0.74},{"v":6,"s":1,"l":0,"a":0.56,"b":0.64},{"v":6,"s":1,"l":-0.003,"a":0.6,"b":0.6}
],
"tk":[{"t":-2},{"t":-1},{"t":0},{"t":1},{"t":2}],
"cb":[
{"v":0,"lo":0,"hi":1},{"v":1,"lo":1,"hi":2},{"v":2,"lo":2,"hi":3},{"v":3,"lo":3,"hi":4},{"v":4,"lo":4,"hi":5},{"v":5,"lo":5,"hi":6},{"v":6,"lo":6,"hi":7},{"v":7,"lo":7,"hi":8},{"v":8,"lo":8,"hi":8.8}
]
},
"vconcat":[
{"vconcat":[
{"hconcat":[
{"width":462,"height":462,
"layer":[
{"data":{"name":"pa"},"mark":{"type":"area","orient":"horizontal","interpolate":"monotone","clip":true},
"encoding":{"x":{"field":"a","type":"quantitative","scale":{"domain":[-3,3],"nice":false,"zero":false},"axis":{"values":[-2,-1,0,1,2],"format":"d","title":"k (1/25 km)"}},"x2":{"field":"b"},"y":{"field":"l","type":"quantitative","scale":{"domain":[-3,3],"nice":false,"zero":false},"axis":{"values":[-2,-1,0,1,2],"format":"d","title":"l (1/25 km)"}},"color":{"field":"v","type":"ordinal","scale":{"domain":[0,1,2,3,4,5,6,7,8],"range":["#262626","#4a4a4a","#636363","#7b7b7b","#949494","#aaaaaa","#dadada","#eaeaea","#ffffff"]},"legend":null},"detail":{"field":"s"}}},
{"data":{"values":[{}]},"mark":{"type":"rule","color":"#707070","strokeWidth":1},"encoding":{"x":{"datum":0,"type":"quantitative"}}},
{"data":{"values":[{}]},"mark":{"type":"rule","color":"#707070","strokeWidth":1},"encoding":{"y":{"datum":0,"type":"quantitative"}}},
{"data":{"name":"tk"},"mark":{"type":"rule","color":"#000000","strokeWidth":1},"encoding":{"x":{"field":"t","type":"quantitative"},"y":{"datum":2.935,"type":"quantitative"},"y2":{"datum":3}}},
{"data":{"name":"tk"},"mark":{"type":"rule","color":"#000000","strokeWidth":1},"encoding":{"y":{"field":"t","type":"quantitative"},"x":{"datum":2.935,"type":"quantitative"},"x2":{"datum":3}}},
{"data":{"values":[{}]},"mark":{"type":"text","align":"left","baseline":"middle","fontSize":19,"fill":"#000000"},"encoding":{"x":{"datum":-2.5,"type":"quantitative"},"y":{"datum":2.5,"type":"quantitative"},"text":{"value":"sₓ = 0"}}},
{"data":{"values":[{}]},"mark":{"type":"text","align":"right","baseline":"middle","fontSize":19,"fill":"#000000"},"encoding":{"x":{"datum":2.9,"type":"quantitative"},"y":{"datum":2.57,"type":"quantitative"},"text":{"value":"(a)"}}}
]},
{"width":462,"height":462,
"layer":[
{"data":{"name":"pb"},"mark":{"type":"area","orient":"horizontal","interpolate":"monotone","clip":true},
"encoding":{"x":{"field":"a","type":"quantitative","scale":{"domain":[-3,3],"nice":false,"zero":false},"axis":{"values":[-2,-1,0,1,2],"format":"d","title":"k (1/25 km)"}},"x2":{"field":"b"},"y":{"field":"l","type":"quantitative","scale":{"domain":[-3,3],"nice":false,"zero":false},"axis":{"values":[-2,-1,0,1,2],"format":"d","title":"l (1/25 km)"}},"color":{"field":"v","type":"ordinal","scale":{"domain":[0,1,2,3,4,5,6,7,8],"range":["#262626","#4a4a4a","#636363","#7b7b7b","#949494","#aaaaaa","#dadada","#eaeaea","#ffffff"]},"legend":null},"detail":{"field":"s"}}},
{"data":{"values":[{}]},"mark":{"type":"rule","color":"#111111","strokeWidth":1},"encoding":{"x":{"datum":0,"type":"quantitative"}}},
{"data":{"values":[{}]},"mark":{"type":"rule","color":"#707070","strokeWidth":1},"encoding":{"y":{"datum":0,"type":"quantitative"}}},
{"data":{"name":"tk"},"mark":{"type":"rule","color":"#000000","strokeWidth":1},"encoding":{"x":{"field":"t","type":"quantitative"},"y":{"datum":2.935,"type":"quantitative"},"y2":{"datum":3}}},
{"data":{"name":"tk"},"mark":{"type":"rule","color":"#000000","strokeWidth":1},"encoding":{"y":{"field":"t","type":"quantitative"},"x":{"datum":2.935,"type":"quantitative"},"x2":{"datum":3}}},
{"data":{"values":[{}]},"mark":{"type":"text","align":"left","baseline":"middle","fontSize":19,"fill":"#000000"},"encoding":{"x":{"datum":-2.5,"type":"quantitative"},"y":{"datum":2.5,"type":"quantitative"},"text":{"value":"sₓ = 1 × 10⁻³"}}},
{"data":{"values":[{}]},"mark":{"type":"text","align":"right","baseline":"middle","fontSize":19,"fill":"#000000"},"encoding":{"x":{"datum":2.9,"type":"quantitative"},"y":{"datum":2.57,"type":"quantitative"},"text":{"value":"(b)"}}}
]}
],"spacing":22},
{"hconcat":[
{"width":462,"height":462,
"layer":[
{"data":{"name":"pc"},"mark":{"type":"area","orient":"horizontal","interpolate":"monotone","clip":true},
"encoding":{"x":{"field":"a","type":"quantitative","scale":{"domain":[-3,3],"nice":false,"zero":false},"axis":{"values":[-2,-1,0,1,2],"format":"d","title":"k (1/25 km)"}},"x2":{"field":"b"},"y":{"field":"l","type":"quantitative","scale":{"domain":[-3,3],"nice":false,"zero":false},"axis":{"values":[-2,-1,0,1,2],"format":"d","title":"l (1/25 km)"}},"color":{"field":"v","type":"ordinal","scale":{"domain":[0,1,2,3,4,5,6,7,8],"range":["#262626","#4a4a4a","#636363","#7b7b7b","#949494","#aaaaaa","#dadada","#eaeaea","#ffffff"]},"legend":null},"detail":{"field":"s"}}},
{"data":{"values":[{}]},"mark":{"type":"rule","color":"#707070","strokeWidth":1},"encoding":{"x":{"datum":0,"type":"quantitative"}}},
{"data":{"values":[{}]},"mark":{"type":"rule","color":"#111111","strokeWidth":1},"encoding":{"y":{"datum":0,"type":"quantitative"}}},
{"data":{"name":"tk"},"mark":{"type":"rule","color":"#000000","strokeWidth":1},"encoding":{"x":{"field":"t","type":"quantitative"},"y":{"datum":2.935,"type":"quantitative"},"y2":{"datum":3}}},
{"data":{"name":"tk"},"mark":{"type":"rule","color":"#000000","strokeWidth":1},"encoding":{"y":{"field":"t","type":"quantitative"},"x":{"datum":2.935,"type":"quantitative"},"x2":{"datum":3}}},
{"data":{"values":[{}]},"mark":{"type":"text","align":"left","baseline":"middle","fontSize":19,"fill":"#000000"},"encoding":{"x":{"datum":-2.5,"type":"quantitative"},"y":{"datum":2.5,"type":"quantitative"},"text":{"value":"sₓ = 5 × 10⁻³"}}},
{"data":{"values":[{}]},"mark":{"type":"text","align":"right","baseline":"middle","fontSize":19,"fill":"#000000"},"encoding":{"x":{"datum":2.9,"type":"quantitative"},"y":{"datum":2.57,"type":"quantitative"},"text":{"value":"(c)"}}}
]},
{"width":462,"height":462,
"layer":[
{"data":{"name":"pd"},"mark":{"type":"area","orient":"horizontal","interpolate":"monotone","clip":true},
"encoding":{"x":{"field":"a","type":"quantitative","scale":{"domain":[-3,3],"nice":false,"zero":false},"axis":{"values":[-2,-1,0,1,2],"format":"d","title":"k (1/25 km)"}},"x2":{"field":"b"},"y":{"field":"l","type":"quantitative","scale":{"domain":[-3,3],"nice":false,"zero":false},"axis":{"values":[-2,-1,0,1,2],"format":"d","title":"l (1/25 km)"}},"color":{"field":"v","type":"ordinal","scale":{"domain":[0,1,2,3,4,5,6,7,8],"range":["#262626","#4a4a4a","#636363","#7b7b7b","#949494","#aaaaaa","#dadada","#eaeaea","#ffffff"]},"legend":null},"detail":{"field":"s"}}},
{"data":{"values":[{}]},"mark":{"type":"rule","color":"#111111","strokeWidth":1},"encoding":{"x":{"datum":0,"type":"quantitative"}}},
{"data":{"values":[{}]},"mark":{"type":"rule","color":"#111111","strokeWidth":1},"encoding":{"y":{"datum":0,"type":"quantitative"}}},
{"data":{"name":"tk"},"mark":{"type":"rule","color":"#000000","strokeWidth":1},"encoding":{"x":{"field":"t","type":"quantitative"},"y":{"datum":2.935,"type":"quantitative"},"y2":{"datum":3}}},
{"data":{"name":"tk"},"mark":{"type":"rule","color":"#000000","strokeWidth":1},"encoding":{"y":{"field":"t","type":"quantitative"},"x":{"datum":2.935,"type":"quantitative"},"x2":{"datum":3}}},
{"data":{"values":[{}]},"mark":{"type":"text","align":"left","baseline":"middle","fontSize":19,"fill":"#000000"},"encoding":{"x":{"datum":-2.5,"type":"quantitative"},"y":{"datum":2.5,"type":"quantitative"},"text":{"value":"sₓ = 1 × 10⁻²"}}},
{"data":{"values":[{}]},"mark":{"type":"text","align":"right","baseline":"middle","fontSize":19,"fill":"#000000"},"encoding":{"x":{"datum":2.9,"type":"quantitative"},"y":{"datum":2.57,"type":"quantitative"},"text":{"value":"(d)"}}}
]}
],"spacing":22}
],"spacing":13},
{"hconcat":[
{"width":242,"height":18,"data":{"values":[{}]},"mark":{"type":"point","opacity":0},"view":{"stroke":null}},
{"width":474,"height":18,"data":{"name":"cb"},
"mark":{"type":"rect"},
"encoding":{"x":{"field":"lo","type":"quantitative","scale":{"domain":[0,8.8],"nice":false,"zero":false},"axis":{"values":[0,1,2,3,4,5,6,7,8],"format":"d","title":null,"tickSize":-4,"labelPadding":6,"labelFontSize":17}},"x2":{"field":"hi"},"color":{"field":"v","type":"ordinal","scale":{"domain":[0,1,2,3,4,5,6,7,8],"range":["#262626","#4a4a4a","#636363","#7b7b7b","#949494","#aaaaaa","#dadada","#eaeaea","#ffffff"]},"legend":null}}}
],"spacing":0}
],
"spacing":9,
"config":{
"font":"Liberation Serif",
"view":{"stroke":"#000000","strokeWidth":1.2},
"axis":{"domain":false,"grid":false,"tickSize":-5,"tickColor":"#000000","tickWidth":1,"labelFontSize":19,"labelColor":"#000000","labelFont":"Liberation Serif","titleFont":"Liberation Serif","titleFontSize":21,"titleFontWeight":"normal","titleColor":"#000000"},
"axisBottom":{"labelPadding":13,"titlePadding":1},
"axisLeft":{"labelPadding":9,"titlePadding":6}
}
}
